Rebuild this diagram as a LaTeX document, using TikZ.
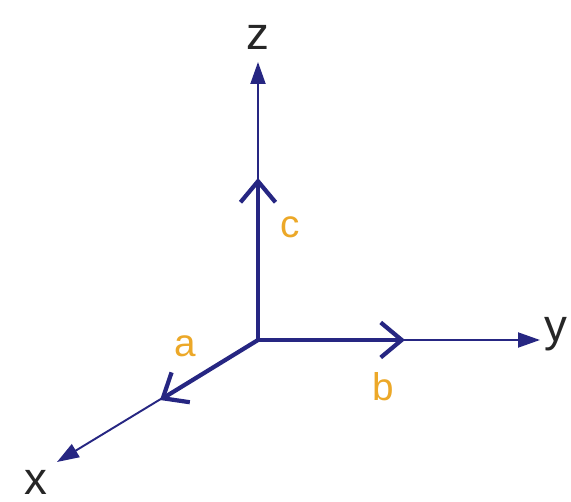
\documentclass[tikz,border=0pt]{standalone}
\usepackage{fontspec}
\setmainfont{Liberation Sans}
\usetikzlibrary{arrows.meta}
\definecolor{axisblue}{RGB}{38,38,130}
\definecolor{vecorange}{RGB}{236,168,40}
\begin{document}
\begin{tikzpicture}[
  axis/.style={draw=axisblue,line width=1.1pt,-{Triangle[length=0.44cm,width=0.3cm]}},
  vec/.style={draw=axisblue,line width=2.4pt,-{Straight Barb[length=0.42cm,width=0.7cm,line width=2.4pt]}},
  axlabel/.style={font=\fontsize{26}{28}\selectfont,text=black!85},
  veclabel/.style={font=\fontsize{22}{24}\selectfont,text=vecorange}
]
\useasboundingbox (0,0) rectangle (11.42,10.04);

\coordinate (O) at (5.16,3.24);
\coordinate (xend) at (1.14,0.80);
\coordinate (yend) at (10.80,3.24);
\coordinate (zend) at (5.16,8.80);
\coordinate (aend) at (3.20,2.04);
\coordinate (bend) at (8.10,3.24);
\coordinate (cend) at (5.16,6.48);

\draw[axis] (O) -- (xend);
\draw[axis] (O) -- (yend);
\draw[axis] (O) -- (zend);

\draw[vec] (O) -- (aend);
\draw[vec] (O) -- (bend);
\draw[vec] (O) -- (cend);

\node[axlabel] (x) at (0.72,0.40) {x};
\node[axlabel] (y) at (11.12,3.36) {y};
\node[axlabel] (z) at (5.16,9.30) {z};

\node[veclabel] (a) at (3.70,3.12) {a};
\node[veclabel] (b) at (7.66,2.30) {b};
\node[veclabel] (c) at (5.80,5.50) {c};
\end{tikzpicture}
\end{document}
